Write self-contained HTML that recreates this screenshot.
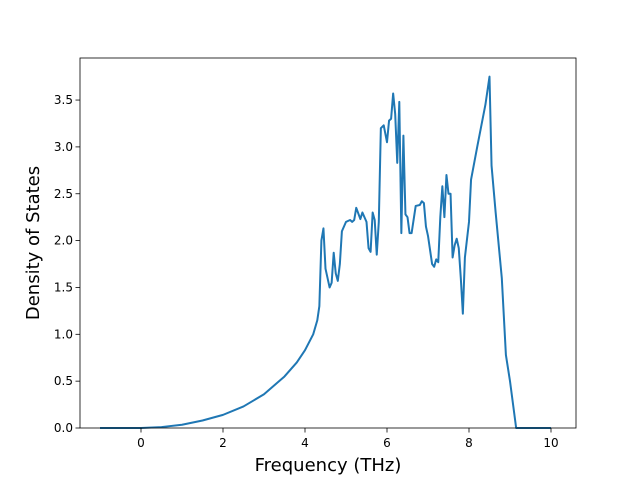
<!DOCTYPE html>
<html><head><meta charset="utf-8"><style>body{margin:0;background:#fff}svg{display:block;font-family:"DejaVu Sans","Liberation Sans",sans-serif}</style></head>
<body>
<svg id="chart" width="640" height="480" viewBox="0 0 640 480">
<rect width="640" height="480" fill="#fff"/>
<g id="plot"></g>
<text x="328" y="471" font-size="18" text-anchor="middle">Frequency (THz)</text>
<text transform="translate(39,243) rotate(-90)" font-size="18" text-anchor="middle">Density of States</text>
</svg>
<script>
const freq = [-1,0,0.5,1,1.5,2,2.5,3,3.5,3.8,4,4.2,4.3,4.35,4.4,4.45,4.5,4.6,4.65,4.7,4.75,4.8,4.85,4.9,5.0,5.1,5.15,5.2,5.25,5.35,5.4,5.5,5.55,5.6,5.65,5.7,5.75,5.8,5.85,5.92,6.0,6.05,6.1,6.15,6.2,6.25,6.3,6.35,6.4,6.45,6.5,6.55,6.6,6.7,6.8,6.85,6.9,6.95,7.0,7.1,7.15,7.2,7.25,7.3,7.35,7.4,7.45,7.5,7.55,7.6,7.65,7.7,7.75,7.8,7.85,7.9,8.0,8.05,8.2,8.4,8.5,8.55,8.65,8.8,8.9,9.0,9.15,10];
const dos = [0,0,0.01,0.035,0.08,0.14,0.23,0.36,0.55,0.7,0.83,1.0,1.15,1.3,2.0,2.13,1.7,1.5,1.55,1.87,1.65,1.57,1.75,2.1,2.2,2.22,2.2,2.22,2.35,2.23,2.3,2.2,1.92,1.88,2.3,2.22,1.85,2.2,3.2,3.23,3.05,3.28,3.3,3.57,3.35,2.83,3.48,2.08,3.12,2.28,2.25,2.08,2.08,2.37,2.38,2.42,2.4,2.15,2.05,1.75,1.72,1.8,1.77,2.25,2.58,2.25,2.7,2.5,2.5,1.82,1.95,2.02,1.92,1.6,1.22,1.82,2.2,2.65,3.0,3.45,3.75,2.8,2.3,1.6,0.78,0.5,0,0];
const xTicks = [0,2,4,6,8,10];
const yTicks = [0,0.5,1,1.5,2,2.5,3,3.5];
const L=80,R=576,T=58,B=428;
const X=f=>141+f*41, Y=v=>428-v*93.7;
const g=document.getElementById('plot');
const ns='http://www.w3.org/2000/svg';
function mk(t,a){const e=document.createElementNS(ns,t);for(const k in a)e.setAttribute(k,a[k]);g.appendChild(e);return e;}
const line=mk('polyline',{points:freq.map((f,i)=>X(f)+','+Y(dos[i])).join(' '),fill:'none',stroke:'#1f77b4','stroke-width':2,'stroke-linejoin':'round'});


xTicks.forEach(t=>{const l=mk('line',{x1:X(t),x2:X(t),y1:B,y2:B+4.5,stroke:'#000','stroke-width':0.8});


const tx=mk('text',{x:X(t),y:B+19,'font-size':12,'text-anchor':'middle'});tx.textContent=t;

});
yTicks.forEach(t=>{const l=mk('line',{x1:L-4.5,x2:L,y1:Y(t),y2:Y(t),stroke:'#000','stroke-width':0.8});


const tx=mk('text',{x:L-7,y:Y(t)+4,'font-size':12,'text-anchor':'end'});tx.textContent=t.toFixed(1);

});
const fr=mk('rect',{x:L,y:T,width:R-L,height:B-T,fill:'none',stroke:'#000','stroke-width':0.8});


</script>
</body></html>
